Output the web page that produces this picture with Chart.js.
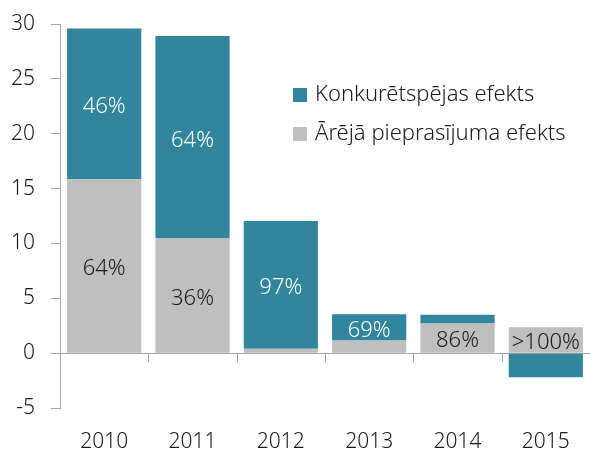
<!DOCTYPE html>
<html>
<head>
<meta charset="utf-8">
<script src="https://cdn.jsdelivr.net/npm/chart.js@4/dist/chart.umd.min.js"></script>
<style>
  html, body { margin: 0; padding: 0; background: #fff; }
  #wrap { width: 590px; height: 453px; }
</style>
</head>
<body>
<div id="wrap"><canvas id="myChart" width="590" height="453"></canvas></div>
<script>
const years = ['2010', '2011', '2012', '2013', '2014', '2015'];
const demandEffect = [15.85, 10.45, 0.4, 1.15, 2.7, 2.35];
const competitivenessEffect = [13.75, 18.45, 11.65, 2.4, 0.8, -2.2];
const demandLabels = ['64%', '36%', '', '', '86%', '>100%'];
const competitivenessLabels = ['46%', '64%', '97%', '69%', '', ''];
const yTicks = [30, 25, 20, 15, 10, 5, 0, -5];

const teal = '#31869e';
const grey = '#bfbfbf';
const axisGrey = '#a6a6a6';
const fontFamily = '"Noto Sans", "Open Sans", sans-serif';
const fontWeight = '300';

// bar percentages written inside the segments
const barTextPlugin = {
    id: 'barText',
    afterDatasetsDraw(chart) {
        const ctx = chart.ctx;
        const sets = [
            { idx: 0, texts: demandLabels, color: '#1a1a1a' },
            { idx: 1, texts: competitivenessLabels, color: '#ffffff' }
        ];
        ctx.save();
        ctx.font = fontWeight + ' 22px ' + fontFamily;
        ctx.textAlign = 'center';
        ctx.textBaseline = 'middle';
        sets.forEach(s => {
            chart.getDatasetMeta(s.idx).data.forEach((bar, i) => {
                if (!s.texts[i]) return;
                ctx.fillStyle = s.color;
                ctx.fillText(s.texts[i], bar.x, (bar.y + bar.base) / 2 + 3);
            });
        });
        ctx.restore();
    }
};

// small tick marks under the zero line between categories + legend
const extrasPlugin = {
    id: 'extras',
    afterDraw(chart) {
        const ctx = chart.ctx;
        const x = chart.scales.x;
        const y = chart.scales.y;
        const zero = y.getPixelForValue(0);
        ctx.save();
        ctx.strokeStyle = axisGrey;
        ctx.lineWidth = 1;
        for (let i = 1; i < years.length; i++) {
            const px = Math.round((x.getPixelForValue(i - 1) + x.getPixelForValue(i)) / 2) + 0.5;
            ctx.beginPath();
            ctx.moveTo(px, zero);
            ctx.lineTo(px, zero + 9);
            ctx.stroke();
        }

        // legend
        const items = [chart.data.datasets[1], chart.data.datasets[0]];
        ctx.font = fontWeight + ' 22px ' + fontFamily;
        ctx.textBaseline = 'middle';
        ctx.textAlign = 'left';
        items.forEach((ds, i) => {
            const cy = 95 + i * 39;
            ctx.fillStyle = ds.backgroundColor;
            ctx.fillRect(293, cy - 7, 14, 14);
            ctx.fillStyle = '#1a1a1a';
            ctx.fillText(ds.label, 315, cy);
        });
        ctx.restore();
    }
};

const canvas = document.getElementById('myChart').getContext('2d');
const chart = new Chart(canvas, {
    type: 'bar',
    data: {
        labels: years,
        datasets: [{
            label: 'Ārējā pieprasījuma efekts',
            data: demandEffect,
            backgroundColor: grey,
            barPercentage: 0.84,
            categoryPercentage: 1
        }, {
            label: 'Konkurētspējas efekts',
            data: competitivenessEffect,
            backgroundColor: teal,
            barPercentage: 0.84,
            categoryPercentage: 1
        }]
    },
    options: {
        responsive: false,
        animation: false,
        layout: { padding: { top: 24, right: 0, bottom: 0, left: 0 } },
        plugins: {
            legend: { display: false },
            tooltip: { enabled: false }
        },
        scales: {
            x: {
                stacked: true,
                afterFit: s => { s.height = 45; s.paddingLeft = 0; s.paddingRight = 0; },
                border: { display: false },
                grid: { display: false, drawTicks: false },
                ticks: {
                    color: '#1a1a1a',
                    font: { family: fontFamily, size: 21, weight: fontWeight },
                    padding: 21
                }
            },
            y: {
                stacked: true,
                min: -5,
                max: 30,
                afterBuildTicks: s => { s.ticks = yTicks.map(v => ({ value: v })); },
                afterFit: s => { s.width = 60; s.paddingTop = 0; s.paddingBottom = 0; },
                border: { display: true, color: axisGrey },
                grid: {
                    color: c => c.tick && c.tick.value === 0 ? axisGrey : 'rgba(0,0,0,0)',
                    tickColor: axisGrey,
                    tickLength: 9
                },
                ticks: {
                    color: '#1a1a1a',
                    font: { family: fontFamily, size: 21, weight: fontWeight },
                    padding: 16
                }
            }
        }
    },
    plugins: [barTextPlugin, extrasPlugin]
});
</script>
</body>
</html>
